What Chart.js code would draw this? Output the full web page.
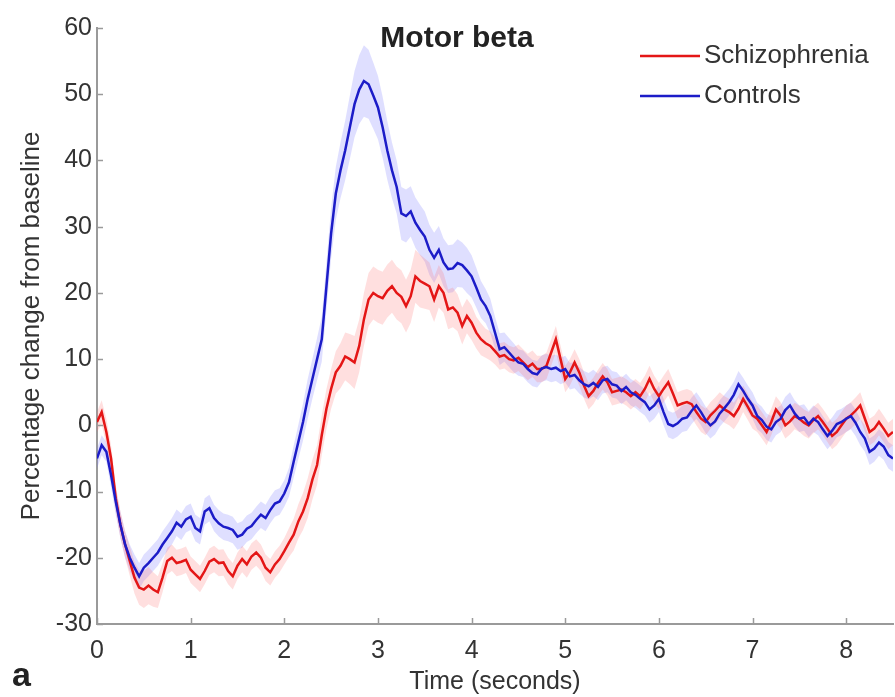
<!DOCTYPE html>
<html>
<head>
<meta charset="utf-8">
<title>Motor beta</title>
<script src="https://cdn.jsdelivr.net/npm/chart.js@4.4.1/dist/chart.umd.min.js"></script>
<style>
  html, body { margin: 0; padding: 0; background: #fff; }
</style>
</head>
<body>
<canvas id="chart" width="895" height="697"></canvas>
<script>
(() => {
  // samples every 50 ms, 0 to 8.5 s
  const sampleStep = 0.05;
  const xTicks = [0, 1, 2, 3, 4, 5, 6, 7, 8];
  const yTicks = [-30, -20, -10, 0, 10, 20, 30, 40, 50, 60];

  const controlsMean = [
    -5, -3, -4, -7.5, -11.5, -15, -18, -20, -21.5, -22.8,
    -21.5, -20.8, -20, -19.2, -18, -17, -16, -14.7, -15.3, -14.2,
    -13.8, -15.5, -16, -13, -12.5, -14, -14.8, -15.3, -15.5, -15.8,
    -16.8, -16.5, -15.6, -15.2, -14.3, -13.5, -14, -12.8, -11.8, -11.5,
    -10.3, -8.6, -5.5, -2.5, 0.5, 4, 7, 10, 13, 21,
    29, 35, 38.5, 41.5, 45, 48.5, 50.7, 52, 51.5, 49.8,
    48, 45, 41.5, 38.5, 36, 32, 31.6, 32.3, 30.6, 29.5,
    28.5, 26.5, 25.3, 26.5, 24.6, 23.6, 23.7, 24.5, 24.2, 23.4,
    22.5, 20.8, 19, 18, 16.5, 14, 11.5, 11.8, 11, 10.2,
    9.5, 9.3, 8.5, 7.9, 7.7, 8.6, 8.8, 8.5, 8.7, 8.2,
    8.5, 7.4, 7.6, 6.8, 6.2, 5.9, 6.4, 5.8, 6.8, 7,
    6.2, 6, 5.2, 5.8, 5, 4.6, 4, 3.5, 2.4, 3,
    4, 2, 0.2, -0.1, 0.3, 1, 1.2, 2.2, 3, 2,
    0.8, 0, 0.6, 1.8, 2.6, 3.5, 4.6, 6.2, 5.2, 4,
    3, 1.4, 0.8, -0.2, -0.6, 0.5, 1, 2.3, 3, 1.8,
    1, 1.2, 0.2, 1, 0.5, -0.6, -1.6, -0.8, 0.2, 0.5,
    1, 1.4, 0.4, -1, -2, -4, -3.5, -2.6, -3.2, -4.5, -5
  ];

  const controlsSem = [
    1.5, 1.5, 1.5, 1.8, 2, 2, 2, 2, 2, 2,
    2, 2, 2, 2, 2, 2, 2, 2, 2, 2,
    2, 2, 2, 2, 2, 2, 2, 2, 2, 2,
    2, 2, 2, 2, 2, 2, 2, 2, 2, 2,
    2, 2.2, 2.4, 2.6, 2.8, 3, 3, 3.2, 3.4, 3.6,
    3.8, 4, 4.2, 4.5, 4.8, 5, 5.2, 5.4, 5.2, 5,
    4.8, 4.6, 4.4, 4.2, 4, 4, 4, 3.8, 3.8, 3.8,
    3.8, 3.8, 3.8, 3.6, 3.6, 3.6, 3.6, 3.6, 3.4, 3.4,
    3.2, 3, 2.8, 2.6, 2.6, 2.4, 2.4, 2.2, 2.2, 2.2,
    2, 2, 2, 2, 2, 2, 2, 2, 2, 2,
    2, 2, 2, 2, 2, 2, 2, 2, 2, 2,
    2, 2, 2, 2, 2, 2, 2, 2, 2, 2,
    2, 2, 2, 2, 2, 2, 2, 2, 2, 2,
    2, 2, 2, 2, 2, 2, 2, 2, 2, 2,
    2, 2, 2, 2, 2, 2, 2, 2, 2, 2,
    2, 2, 2, 2, 2, 2, 2, 2, 2, 2,
    2, 2, 2, 2, 2, 2, 2, 2, 2, 2, 2
  ];

  const schizMean = [
    0.5, 2, -1, -5, -11, -15, -18, -20.5, -23, -24.5,
    -24.8, -24.2, -24.8, -25.2, -23, -20.5, -20, -20.8, -20.6, -20.3,
    -21.8, -22.5, -23.2, -22, -20.6, -20.2, -20.8, -20.7, -22, -22.8,
    -21.2, -20.2, -21, -19.8, -19.2, -20, -21.5, -22.2, -21, -20.2,
    -19, -17.7, -16.5, -14.5, -13, -11, -8.2, -6, -1.5, 2.5,
    5.5, 8, 9, 10.4, 10, 9.5, 12, 16, 19, 20,
    19.5, 19.2, 20.3, 21, 20, 19.4, 18, 19.5, 22.5, 21.8,
    21.4, 21, 19, 21, 20, 17.5, 17.8, 17, 15, 16.5,
    15.5, 14, 13, 12.4, 12, 11.2, 10.4, 10.6, 10, 9.8,
    10.2, 9.5, 8.8, 9.3, 8.5, 8.5, 9, 11, 13, 10,
    7, 8, 9.5, 8, 6, 4.4, 5.2, 6.4, 7.4, 6.5,
    5, 5.2, 5.4, 5, 4.4, 5, 4.4, 5.5, 7, 5.5,
    4.4, 5.5, 6.5, 4.8, 3, 3.3, 3.5, 3.2, 2, 1,
    0.5, 1.5, 2.2, 3, 2.4, 2, 1.4, 2.5, 4, 2.8,
    1.5, 1, 0, -1, 0.5, 2.4, 1.5, 0, 0.6, 1.4,
    1, 0.4, 0, 0.8, 1.4, 0.5, -0.5, -1.6, -1, 0,
    1, 1.5, 2.2, 3, 1, -1, -0.5, 0.5, -0.5, -1.6, -1
  ];

  const schizSem = [
    1.5, 1.8, 2, 2, 2, 2, 2, 2.2, 2.4, 2.6,
    2.8, 2.8, 2.6, 2.4, 2.2, 2, 2, 2, 2, 2,
    2, 2, 2, 2, 2, 2, 2, 2, 2, 2,
    2, 2, 2, 2, 2, 2, 2, 2, 2, 2,
    2, 2.2, 2.4, 2.6, 2.8, 3, 3, 3, 3, 3,
    3, 3.2, 3.4, 3.6, 3.8, 4, 4, 4, 4, 4,
    4, 4, 4, 4, 4, 4, 4, 4, 4, 4,
    3.8, 3.6, 3.4, 3.2, 3, 3, 3, 2.8, 2.8, 2.6,
    2.6, 2.4, 2.4, 2.2, 2.2, 2, 2, 2, 2, 2,
    2, 2, 2, 2, 2, 2, 2, 2, 2, 2,
    2, 2, 2, 2, 2, 2, 2, 2, 2, 2,
    2, 2, 2, 2, 2, 2, 2, 2, 2, 2,
    2, 2, 2, 2, 2, 2, 2, 2, 2, 2,
    2, 2, 2, 2, 2, 2, 2, 2, 2, 2,
    2, 2, 2, 2, 2, 2, 2, 2, 2, 2,
    2, 2, 2, 2, 2, 2, 2, 2, 2, 2,
    2, 2, 2, 2, 2, 2, 2, 2, 2, 2, 2
  ];

  const schizColor = 'rgb(228, 22, 22)';
  const controlsColor = 'rgb(28, 28, 200)';
  const axisColor = '#9a9a9a';
  const textColor = '#333';
  const fontFamily = "'Liberation Sans', Arial, sans-serif";

  const timeAt = (i) => Math.round(i * sampleStep * 100) / 100;
  const toPoints = (values) => values.map((v, i) => ({ x: timeAt(i), y: v }));
  const bandPoints = (mean, sem, sign) => mean.map((v, i) => ({ x: timeAt(i), y: v + sign * sem[i] }));

  const bandStyle = {
    borderWidth: 0,
    pointRadius: 0,
    tension: 0
  };

  // title, legend, panel letter and inward tick marks
  const decorations = {
    id: 'decorations',
    afterDraw(chart) {
      const { ctx, scales: { x, y }, chartArea } = chart;
      ctx.save();

      ctx.strokeStyle = axisColor;
      ctx.lineWidth = 1.5;
      xTicks.forEach((v) => {
        const px = Math.round(x.getPixelForValue(v)) + 0.5;
        ctx.beginPath();
        ctx.moveTo(px, chartArea.bottom);
        ctx.lineTo(px, chartArea.bottom - 6);
        ctx.stroke();
      });
      yTicks.forEach((v) => {
        const py = Math.round(y.getPixelForValue(v)) + 0.5;
        ctx.beginPath();
        ctx.moveTo(chartArea.left, py);
        ctx.lineTo(chartArea.left + 6, py);
        ctx.stroke();
      });

      ctx.fillStyle = '#222';
      ctx.font = `bold 30px ${fontFamily}`;
      ctx.textAlign = 'center';
      ctx.textBaseline = 'alphabetic';
      ctx.fillText('Motor beta', 457, 47);

      ctx.font = `bold 34px ${fontFamily}`;
      ctx.textAlign = 'left';
      ctx.fillText('a', 12, 686);

      const legendItems = chart.data.datasets.filter((d) => d.showInLegend);
      ctx.font = `26px ${fontFamily}`;
      ctx.textBaseline = 'middle';
      legendItems.forEach((d, i) => {
        const ly = 56 + i * 40;
        ctx.strokeStyle = d.borderColor;
        ctx.lineWidth = 2.5;
        ctx.beginPath();
        ctx.moveTo(640, ly);
        ctx.lineTo(700, ly);
        ctx.stroke();
        ctx.fillStyle = textColor;
        ctx.fillText(d.label, 704, ly);
      });

      ctx.restore();
    }
  };

  new Chart(document.getElementById('chart'), {
    type: 'line',
    data: {
      datasets: [
        {
          label: 'Controls SEM upper',
          data: bandPoints(controlsMean, controlsSem, 1),
          backgroundColor: 'rgba(110, 110, 255, 0.22)',
          fill: '+1',
          order: 6,
          ...bandStyle
        },
        {
          label: 'Controls SEM lower',
          data: bandPoints(controlsMean, controlsSem, -1),
          fill: false,
          order: 6,
          ...bandStyle
        },
        {
          label: 'Schizophrenia SEM upper',
          data: bandPoints(schizMean, schizSem, 1),
          backgroundColor: 'rgba(255, 110, 110, 0.22)',
          fill: '+1',
          order: 5,
          ...bandStyle
        },
        {
          label: 'Schizophrenia SEM lower',
          data: bandPoints(schizMean, schizSem, -1),
          fill: false,
          order: 5,
          ...bandStyle
        },
        {
          label: 'Schizophrenia',
          data: toPoints(schizMean),
          borderColor: schizColor,
          borderWidth: 2.5,
          pointRadius: 0,
          tension: 0,
          fill: false,
          order: 2,
          showInLegend: true
        },
        {
          label: 'Controls',
          data: toPoints(controlsMean),
          borderColor: controlsColor,
          borderWidth: 2.5,
          pointRadius: 0,
          tension: 0,
          fill: false,
          order: 1,
          showInLegend: true
        }
      ]
    },
    options: {
      responsive: false,
      animation: false,
      layout: { padding: { top: 28, right: 2, left: 0, bottom: 0 } },
      plugins: {
        legend: { display: false },
        tooltip: { enabled: false }
      },
      scales: {
        x: {
          type: 'linear',
          min: 0,
          max: 8.5,
          afterBuildTicks: (scale) => { scale.ticks = xTicks.map((value) => ({ value })); },
          afterFit: (scale) => { scale.height = 73; },
          ticks: {
            color: textColor,
            font: { family: fontFamily, size: 25 },
            padding: 12,
            maxRotation: 0,
            autoSkip: false
          },
          grid: { drawOnChartArea: false, drawTicks: false },
          border: { display: true, color: axisColor, width: 2 },
          title: {
            display: true,
            text: 'Time (seconds)',
            color: textColor,
            font: { family: fontFamily, size: 25 },
            padding: { top: 0, bottom: 0 }
          }
        },
        y: {
          min: -30,
          max: 60,
          afterBuildTicks: (scale) => { scale.ticks = yTicks.map((value) => ({ value })); },
          afterFit: (scale) => { scale.width = 97; },
          ticks: {
            color: textColor,
            font: { family: fontFamily, size: 25 },
            padding: 5,
            autoSkip: false
          },
          grid: { drawOnChartArea: false, drawTicks: false },
          border: { display: true, color: axisColor, width: 2 },
          title: {
            display: true,
            text: 'Percentage change from baseline',
            color: textColor,
            font: { family: fontFamily, size: 26 },
            padding: { top: 16, bottom: 0 }
          }
        }
      }
    },
    plugins: [decorations]
  });
})();
</script>
</body>
</html>
